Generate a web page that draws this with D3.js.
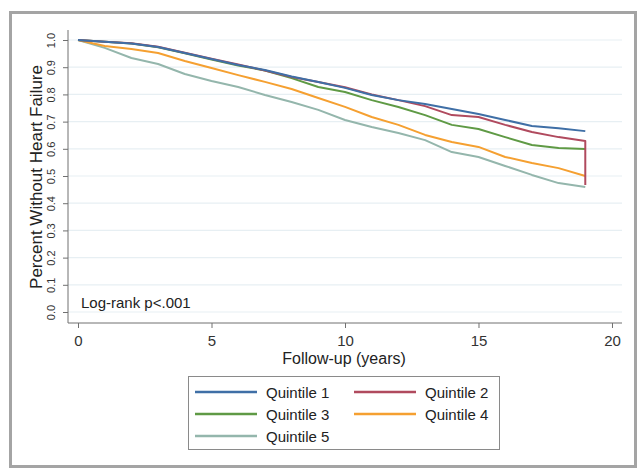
<!DOCTYPE html>
<html>
<head>
<meta charset="utf-8">
<script src="https://cdn.jsdelivr.net/npm/d3@7/dist/d3.min.js"></script>
<style>
  html, body { margin: 0; padding: 0; background: #ffffff; }
  svg { display: block; font-family: "Liberation Sans", Arial, Helvetica, sans-serif; }
</style>
</head>
<body>
<svg id="chart" width="641" height="470"></svg>
<script>
// ---- data ----
const years = [0,1,2,3,4,5,6,7,8,9,10,11,12,13,14,15,16,17,18,19];
const q1 = [1.000,0.994,0.987,0.974,0.952,0.930,0.908,0.890,0.866,0.846,0.824,0.798,0.779,0.765,0.746,0.728,0.706,0.684,0.676,0.665];
const q2 = [1.000,0.994,0.988,0.975,0.953,0.931,0.910,0.888,0.864,0.846,0.826,0.800,0.779,0.757,0.724,0.717,0.688,0.662,0.643,0.629];
const q2FinalDrop = 0.467;
const q3 = [1.000,0.994,0.987,0.973,0.951,0.928,0.906,0.888,0.860,0.827,0.809,0.779,0.754,0.724,0.688,0.673,0.643,0.614,0.603,0.599];
const q4 = [1.000,0.978,0.967,0.952,0.923,0.897,0.871,0.846,0.820,0.787,0.754,0.717,0.688,0.651,0.625,0.607,0.570,0.548,0.529,0.500];
const q5 = [1.000,0.971,0.934,0.912,0.875,0.849,0.827,0.798,0.772,0.743,0.706,0.680,0.658,0.632,0.588,0.570,0.537,0.504,0.474,0.460];
const seriesNames = ["Quintile 1","Quintile 2","Quintile 3","Quintile 4","Quintile 5"];
const xTicks = [0,5,10,15,20];
const yTicks = [0,0.1,0.2,0.3,0.4,0.5,0.6,0.7,0.8,0.9,1.0];
const xTitle = "Follow-up (years)";
const yTitle = "Percent Without Heart Failure";
const note = "Log-rank p<.001";

const colors = ["#3f6fa6","#b04a5e","#5f9a45","#f5a031","#94b6ac"];

const svg = d3.select("#chart");

// outer frame
svg.append("rect").attr("x",10.5).attr("y",12.5).attr("width",625).attr("height",454)
  .attr("fill","#ffffff").attr("stroke","#a4a4a4").attr("stroke-width",3);

// scales (plot region 68..622 x 30..323)
const x = d3.scaleLinear().domain([-0.375,20.375]).range([68,622]);
const y = d3.scaleLinear().domain([-0.0404,1.0368]).range([323,30]);

// gridlines
svg.append("g").selectAll("line").data(yTicks).join("line")
  .attr("x1",68).attr("x2",622)
  .attr("y1",d=>y(d)).attr("y2",d=>y(d))
  .attr("stroke","#e7eff3").attr("stroke-width",1.2);

// series
const data = [q1,q2,q3,q4,q5].map((vals,i)=>{
  const pts = years.map((t,j)=>({t, v: vals[j]}));
  if (i===1) pts.push({t: years[years.length-1], v: q2FinalDrop});
  return pts;
});
const line = d3.line().x(d=>x(d.t)).y(d=>y(d.v)).curve(d3.curveLinear);
// draw in reverse so Q1 on top
const order = [4,3,2,1,0];
svg.append("g").selectAll("path").data(order).join("path")
  .attr("d",i=>line(data[i]))
  .attr("fill","none").attr("stroke",i=>colors[i]).attr("stroke-width",2)
  .attr("stroke-linejoin","round");

// axes
const axisColor = "#707070";
const yAxis = svg.append("g").attr("transform","translate(68,0)")
  .call(d3.axisLeft(y).tickValues(yTicks).tickFormat(d3.format(".1f")).tickSize(5).tickPadding(3));
yAxis.select(".domain").attr("d","M0,30V323").attr("stroke",axisColor);
yAxis.selectAll(".tick line").attr("stroke",axisColor);
yAxis.selectAll(".tick text")
  .attr("x",0).attr("dy",null).attr("y",null)
  .attr("transform","translate(-13,0) rotate(-90)")
  .attr("text-anchor","middle").attr("dominant-baseline","alphabetic")
  .style("font-size","11px").attr("fill","#333");

const xAxis = svg.append("g").attr("transform","translate(0,323)")
  .call(d3.axisBottom(x).tickValues(xTicks).tickFormat(d3.format("d")).tickSize(5).tickPadding(4));
xAxis.select(".domain").attr("d","M68,0H622").attr("stroke",axisColor);
xAxis.selectAll(".tick line").attr("stroke",axisColor);
xAxis.selectAll(".tick text").attr("dy",null).attr("y",23)
  .style("font-size","15px").attr("fill","#333");

// titles
svg.append("text").attr("x",344).attr("y",364).attr("text-anchor","middle")
  .style("font-size","16px").attr("fill","#222").text(xTitle);
svg.append("text").attr("transform","translate(42,177) rotate(-90)").attr("text-anchor","middle")
  .style("font-size","17px").attr("fill","#222").text(yTitle);

// note
svg.append("text").attr("x",81).attr("y",308).style("font-size","15px").attr("fill","#222").text(note);

// legend
svg.append("rect").attr("x",188.5).attr("y",376.5).attr("width",311).attr("height",73)
  .attr("fill","#fff").attr("stroke","#8a8a8a").attr("stroke-width",1);
const legPos = [[195,392],[354,392],[195,414],[354,414],[195,436]];
const leg = svg.append("g").selectAll("g").data(seriesNames).join("g")
  .attr("transform",(d,i)=>`translate(${legPos[i][0]},${legPos[i][1]})`);
leg.append("line").attr("x1",0).attr("x2",62).attr("y1",0).attr("y2",0)
  .attr("stroke",(d,i)=>colors[i]).attr("stroke-width",2.5);
leg.append("text").attr("x",71).attr("y",5.5).style("font-size","15px").attr("fill","#222").text(d=>d);
</script>
</body>
</html>
